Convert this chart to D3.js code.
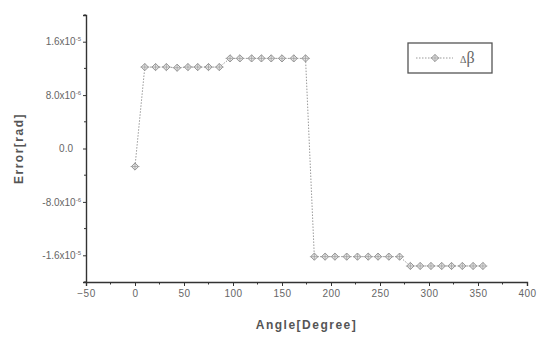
<!DOCTYPE html>
<html>
<head>
<meta charset="utf-8">
<script src="https://cdn.jsdelivr.net/npm/d3@7"></script>
<style>
  html, body { margin: 0; padding: 0; background: #fff; }
  svg { display: block; }
</style>
</head>
<body>
<svg id="chart" width="548" height="339"></svg>
<script>
// ---- data ----
const angles = [0, 10, 21, 32, 43, 54, 64, 75, 86,
                97, 107, 119, 129, 139, 150, 162, 174,
                183, 194, 204, 216, 227, 238, 248, 259, 270,
                281, 291, 302, 313, 323, 334, 345, 355];
const errors = [-2.7e-6,
                1.22e-5, 1.22e-5, 1.22e-5, 1.21e-5, 1.22e-5, 1.22e-5, 1.22e-5, 1.22e-5,
                1.35e-5, 1.35e-5, 1.35e-5, 1.35e-5, 1.35e-5, 1.35e-5, 1.35e-5, 1.35e-5,
                -1.62e-5, -1.62e-5, -1.62e-5, -1.62e-5, -1.62e-5, -1.62e-5, -1.62e-5, -1.62e-5, -1.62e-5,
                -1.76e-5, -1.76e-5, -1.76e-5, -1.76e-5, -1.76e-5, -1.76e-5, -1.76e-5, -1.76e-5];
const xTicks = [-50, 0, 50, 100, 150, 200, 250, 300, 350, 400];
const yTicks = [1.6e-5, 8.0e-6, 0, -8.0e-6, -1.6e-5];
const yTickMantissa = ["1.6", "8.0", "0.0", "-8.0", "-1.6"];
const yTickExponent = ["-5", "-6", "", "-6", "-5"];
const legendSymbol = "\u0394";
const legendLetter = "\u03B2";
const xTitle = "Angle[Degree]";
const yTitle = "Error[rad]";

// ---- layout ----
const svg = d3.select("#chart");
const x = d3.scaleLinear().domain([-50, 400]).range([86, 527]);
const y = d3.scaleLinear().domain([-2.0e-5, 2.0e-5]).range([282, 15]);
const axisColor = "#333";
const textColor = "#666";
const font = "Arial, 'Liberation Sans', sans-serif";

// minor ticks
const xMinor = d3.range(-50, 401, 25).filter(v => !xTicks.includes(v));
const yMinor = d3.range(-2.0e-5, 2.0001e-5, 4e-6).map(v => +v.toPrecision(3)).filter(v => !yTicks.some(t => Math.abs(t - v) < 1e-9));

// x axis
const gx = svg.append("g").attr("transform", `translate(0,${y(-2.0e-5)})`)
  .call(d3.axisBottom(x).tickValues(xTicks).tickSize(4).tickPadding(4).tickFormat(d3.format("d")));
gx.select(".domain").attr("stroke", axisColor).attr("stroke-width", 1.4);
gx.selectAll(".tick line").attr("stroke", axisColor);
gx.selectAll(".tick text").attr("fill", textColor).style("font-family", font).style("font-size", "10px").attr("letter-spacing", "0.5px");
svg.append("g").selectAll("line").data(xMinor).join("line")
  .attr("x1", d => x(d)).attr("x2", d => x(d))
  .attr("y1", y(-2.0e-5)).attr("y2", y(-2.0e-5) + 2.5)
  .attr("stroke", axisColor);

// y axis
const gy = svg.append("g").attr("transform", `translate(${x(-50)},0)`)
  .call(d3.axisLeft(y).tickValues(yTicks).tickSize(3).tickPadding(4).tickFormat(""));
gy.select(".domain").attr("stroke", axisColor).attr("stroke-width", 1.4);
gy.selectAll(".tick line").attr("stroke", axisColor);
gy.selectAll(".tick text").each(function(d, i) {
  const t = d3.select(this);
  t.text(null).attr("fill", textColor).style("font-family", font).style("font-size", "10px").attr("x", -5);
  if (yTickExponent[i] === "") {
    t.text(yTickMantissa[i]).attr("dx", "-8px");
  } else {
    t.append("tspan").text(yTickMantissa[i] + "x10");
    t.append("tspan").text(yTickExponent[i]).attr("dy", "-4").style("font-size", "6px");
  }
});
svg.append("g").selectAll("line").data(yMinor).join("line")
  .attr("x1", x(-50)).attr("x2", x(-50) - 2)
  .attr("y1", d => y(d)).attr("y2", d => y(d))
  .attr("stroke", axisColor);

// titles
svg.append("text").attr("x", (x(-50) + x(400)) / 2).attr("y", 329)
  .attr("text-anchor", "middle").attr("fill", "#555").style("font-family", font)
  .style("font-size", "12px").style("font-weight", "bold").attr("letter-spacing", "1.5px").text(xTitle);
svg.append("text").attr("transform", `translate(23,${y(0)}) rotate(-90)`)
  .attr("text-anchor", "middle").attr("fill", "#555").style("font-family", font)
  .style("font-size", "12px").style("font-weight", "bold").attr("letter-spacing", "1.5px").text(yTitle);

// series
const pts = angles.map((a, i) => [a, errors[i]]);
const lineColor = "#9a9a9a";
svg.append("path").datum(pts)
  .attr("d", d3.line().x(d => x(d[0])).y(d => y(d[1])))
  .attr("fill", "none").attr("stroke", lineColor).attr("stroke-width", 1).attr("stroke-dasharray", "1.5,1.5");

function marker(g) {
  g.append("path").attr("d", "M0,-3.6L3.6,0L0,3.6L-3.6,0Z").attr("fill", "#e6e6e6").attr("stroke", "#8a8a8a").attr("stroke-width", 0.9);
  g.append("path").attr("d", "M-4.5,0H4.5M0,-3.6V3.6").attr("stroke", "#999").attr("stroke-width", 0.7);
}
svg.append("g").selectAll("g").data(pts).join("g")
  .attr("transform", d => `translate(${x(d[0])},${y(d[1])})`)
  .each(function() { marker(d3.select(this)); });

// legend
const lg = svg.append("g").attr("transform", "translate(408,43)");
lg.append("rect").attr("width", 84).attr("height", 30).attr("fill", "#fff").attr("stroke", "#555").attr("stroke-width", 1.3);
lg.append("line").attr("x1", 8).attr("x2", 45).attr("y1", 15).attr("y2", 15)
  .attr("stroke", lineColor).attr("stroke-dasharray", "1.5,1.5");
const lm = lg.append("g").attr("transform", "translate(27,15)");
marker(lm);
const lt = lg.append("text").attr("x", 52).attr("y", 20).attr("fill", "#666")
  .style("font-family", "'Liberation Serif', 'DejaVu Serif', serif");
lt.append("tspan").text(legendSymbol).style("font-size", "10px");
lt.append("tspan").text(legendLetter).style("font-size", "16px");
</script>
</body>
</html>
